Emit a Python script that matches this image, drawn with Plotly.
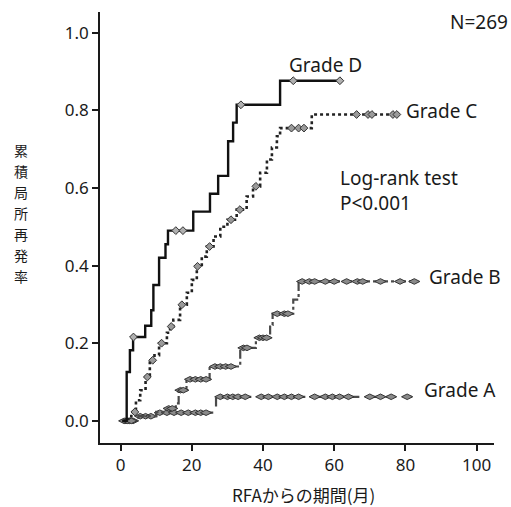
import numpy as np
import plotly.graph_objects as go

# Kaplan-Meier style cumulative local recurrence, by grade
# step times (months) and cumulative rates after each step; last entry = end of follow-up
d_times = [0.5, 1.7, 2.6, 3.5, 6.9, 8.6, 9.2, 10.8, 12.6, 13.3, 20.4, 25.1, 27.4, 30.2, 31.6, 32.6, 44.8, 62.0]
d_rates = [0.0, 0.126, 0.182, 0.216, 0.245, 0.285, 0.35, 0.42, 0.455, 0.49, 0.539, 0.585, 0.631, 0.72, 0.768, 0.814, 0.876, 0.876]
d_censor = [3.6, 15.5, 17.5, 33.8, 48.5, 61.6]

c_times = [0.5, 2.0, 3.0, 4.3, 5.5, 7.0, 8.2, 9.5, 10.8, 13.0, 13.9, 14.8, 16.7, 18.6, 20.0, 21.4, 22.8, 24.2, 26.1,
           28.0, 30.0, 32.6, 35.4, 37.2, 39.2, 41.1, 42.5, 43.9, 44.8, 53.7, 77.6]
c_rates = [0.0, 0.005, 0.023, 0.053, 0.079, 0.113, 0.156, 0.169, 0.2, 0.227, 0.243, 0.26, 0.299, 0.33, 0.363, 0.398,
           0.423, 0.449, 0.475, 0.5, 0.518, 0.544, 0.578, 0.604, 0.639, 0.673, 0.704, 0.733, 0.754, 0.789, 0.789]
c_censor = [4.0, 7.5, 9.0, 11.5, 14.2, 17.2, 21.6, 25.0, 31.0, 33.5, 38.0, 48.0, 50.0, 51.5, 66.3, 69.5, 70.6, 76.5, 77.6]

b_times = [0.5, 5.0, 10.0, 13.0, 15.5, 16.3, 18.5, 25.0, 33.6, 38.0, 42.0, 42.7, 48.5, 50.0, 83.2]
b_rates = [0.0, 0.012, 0.023, 0.032, 0.045, 0.079, 0.107, 0.14, 0.188, 0.214, 0.247, 0.276, 0.312, 0.359, 0.359]
b_censor = [1.0, 2.0, 3.0, 13.5, 14.5, 16.8, 17.6, 19.5, 21.0, 22.5, 24.0, 26.5, 28.0, 29.5, 31.0, 34.5, 35.5,
            39.0, 40.0, 41.0, 44.0, 46.0, 47.0, 51.0, 53.0, 54.5, 57.5, 60.0, 63.5, 66.5, 68.0, 73.0, 78.5, 82.5]

a_times = [0.5, 4.5, 10.0, 26.8, 81.8]
a_rates = [0.0, 0.012, 0.021, 0.062, 0.062]
a_censor = [1.5, 2.5, 3.5, 5.5, 7.0, 8.5, 11.0, 13.0, 15.0, 17.0, 19.0, 21.0, 22.5, 24.0, 28.0, 30.0, 31.5, 33.0,
            35.0, 39.5, 41.5, 44.0, 46.0, 48.0, 50.0, 54.5, 57.5, 59.5, 61.5, 64.0, 70.0, 73.0, 76.0, 80.5]

x_ticks = [0, 20, 40, 60, 80, 100]
y_ticks = [0.0, 0.2, 0.4, 0.6, 0.8, 1.0]
y_title = "累積局所再発率"
x_title = "RFAからの期間(月)"

LATIN = "Noto Sans, Arial, sans-serif"
CJK = "Noto Sans CJK JP, sans-serif"
INK = "#1a1a1a"

W, H = 511, 507
ML, MR, MT, MB = 100, 17, 12, 64
PW, PH = W - ML - MR, H - MT - MB


def page(px, py):
    """Page pixel position -> paper fraction of the plot box."""
    return (px - ML) / PW, (H - MB - py) / PH


def level_at(times, rates, when):
    idx = np.searchsorted(np.asarray(times), np.asarray(when), side="right") - 1
    return np.asarray(rates)[np.clip(idx, 0, len(rates) - 1)]


groups = [
    # times, rates, censor, line style, line colour, width, marker colour, marker symbol, marker size
    (a_times, a_rates, a_censor, "dash", "#4a4a4a", 2.2, "#8a8a8a", "diamond-wide", 8),
    (b_times, b_rates, b_censor, "dashdot", "#4a4a4a", 2.2, "#8a8a8a", "diamond-wide", 8),
    (c_times, c_rates, c_censor, "dot", "#222222", 2.6, "#9a9a9a", "diamond", 6),
    (d_times, d_rates, d_censor, "solid", "#111111", 2.4, "#b0b0b0", "diamond", 6),
]

fig = go.Figure()
for times, rates, censor, dash, lcol, lw, mcol, sym, msz in groups:
    fig.add_trace(go.Scatter(
        x=times, y=rates, mode="lines", line_shape="hv",
        line=dict(color=lcol, width=lw, dash=dash), hoverinfo="skip", showlegend=False,
    ))
    fig.add_trace(go.Scatter(
        x=censor, y=level_at(times, rates, censor), mode="markers",
        marker=dict(symbol=sym, size=msz, color=mcol, line=dict(color="#333333", width=1)),
        hoverinfo="skip", showlegend=False,
    ))

texts = [
    ("Grade D", 287, 65, "left"),
    ("Grade C", 404, 111, "left"),
    ("Grade B", 427, 277, "left"),
    ("Grade A", 422, 390, "left"),
    ("N=269", 510, 22, "right"),
]
for txt, px, py, anchor in texts:
    fx, fy = page(px, py)
    fig.add_annotation(x=fx, y=fy, xref="paper", yref="paper", text=txt, showarrow=False,
                       xanchor=anchor, yanchor="middle", font=dict(family=LATIN, size=19, color=INK))

fx, fy = page(338, 190)
fig.add_annotation(x=fx, y=fy, xref="paper", yref="paper",
                   text="Log-rank test<br>P<0.001", showarrow=False, align="left",
                   xanchor="left", yanchor="middle", font=dict(family=LATIN, size=19, color=INK))

# vertical axis title, one character per row
for i, ch in enumerate(y_title):
    fx, fy = page(21, 150 + i * 21)
    fig.add_annotation(x=fx, y=fy, xref="paper", yref="paper", text=ch, showarrow=False,
                       xanchor="center", yanchor="middle", font=dict(family=CJK, size=14, color=INK))

fx, fy = page(303, 494)
fig.add_annotation(x=fx, y=fy, xref="paper", yref="paper", text=x_title, showarrow=False,
                   xanchor="center", yanchor="middle", font=dict(family=CJK, size=17, color=INK))

fig.update_layout(
    width=W, height=H,
    margin=dict(l=ML, r=MR, t=MT, b=MB),
    paper_bgcolor="white", plot_bgcolor="white",
    xaxis=dict(range=[-5.8, 104.9], tickvals=x_ticks, showgrid=False, zeroline=False,
               showline=True, linecolor=INK, linewidth=1.5, ticks="outside", ticklen=6,
               tickcolor=INK, tickwidth=1.5, tickfont=dict(family=LATIN, size=17, color=INK)),
    yaxis=dict(range=[-0.057, 1.053], tickvals=y_ticks, tickformat=".1f", showgrid=False,
               zeroline=False, showline=True, linecolor=INK, linewidth=1.5, ticks="outside",
               ticklen=6, tickcolor=INK, tickwidth=1.5, tickfont=dict(family=LATIN, size=17, color=INK)),
)

fig.write_html("out.html")
